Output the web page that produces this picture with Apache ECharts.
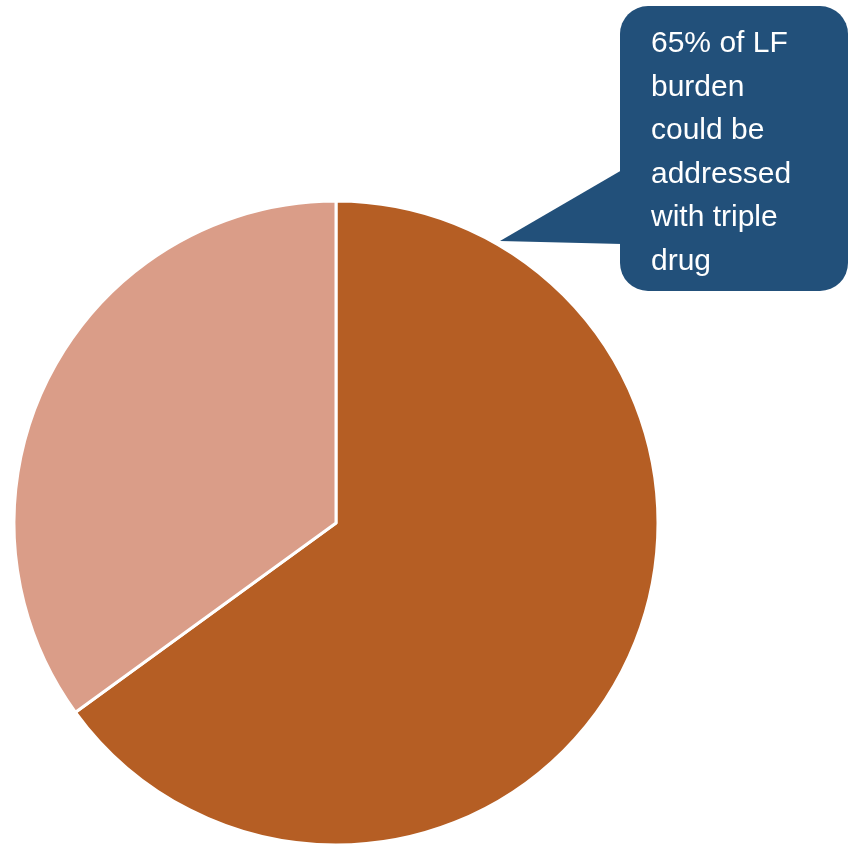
<!DOCTYPE html>
<html>
<head>
<meta charset="utf-8">
<script src="https://cdn.jsdelivr.net/npm/echarts@6/dist/echarts.min.js"></script>
<style>
  html, body { margin: 0; padding: 0; background: #ffffff; }
  #chart { width: 849px; height: 844px; }
</style>
</head>
<body>
<div id="chart"></div>
<script>
// Share of LF burden by treatment suitability (percent)
const categories = ['Addressable with triple drug', 'Other'];
const shares = [65, 35];
const sliceColors = ['#B55E24', '#DA9D88'];

// Callout wording, built from the first share
const calloutLines = [
  shares[0] + '% of LF',
  'burden',
  'could be',
  'addressed',
  'with triple',
  'drug'
];

const chart = echarts.init(document.getElementById('chart'), null, { renderer: 'canvas' });

chart.setOption({
  animation: false,
  backgroundColor: '#ffffff',
  series: [{
    type: 'pie',
    center: [336, 523],
    radius: 322,
    startAngle: 90,
    clockwise: true,
    label: { show: false },
    labelLine: { show: false },
    emphasis: { disabled: true },
    itemStyle: { borderColor: '#ffffff', borderWidth: 3 },
    data: categories.map((name, i) => ({
      name: name,
      value: shares[i],
      itemStyle: { color: sliceColors[i] }
    }))
  }],
  graphic: [
    {
      type: 'polygon',
      z: 10,
      shape: { points: [[622, 170], [500, 241], [622, 244]] },
      style: { fill: '#22507A' }
    },
    {
      type: 'rect',
      z: 10,
      shape: { x: 620, y: 6, width: 228, height: 285, r: 28 },
      style: { fill: '#22507A' }
    },
    {
      type: 'text',
      z: 11,
      left: 651,
      top: 22,
      style: {
        text: calloutLines.join('\n'),
        fill: '#ffffff',
        font: '30px "Liberation Sans", Arial, sans-serif',
        lineHeight: 43.5
      }
    }
  ]
});
</script>
</body>
</html>
